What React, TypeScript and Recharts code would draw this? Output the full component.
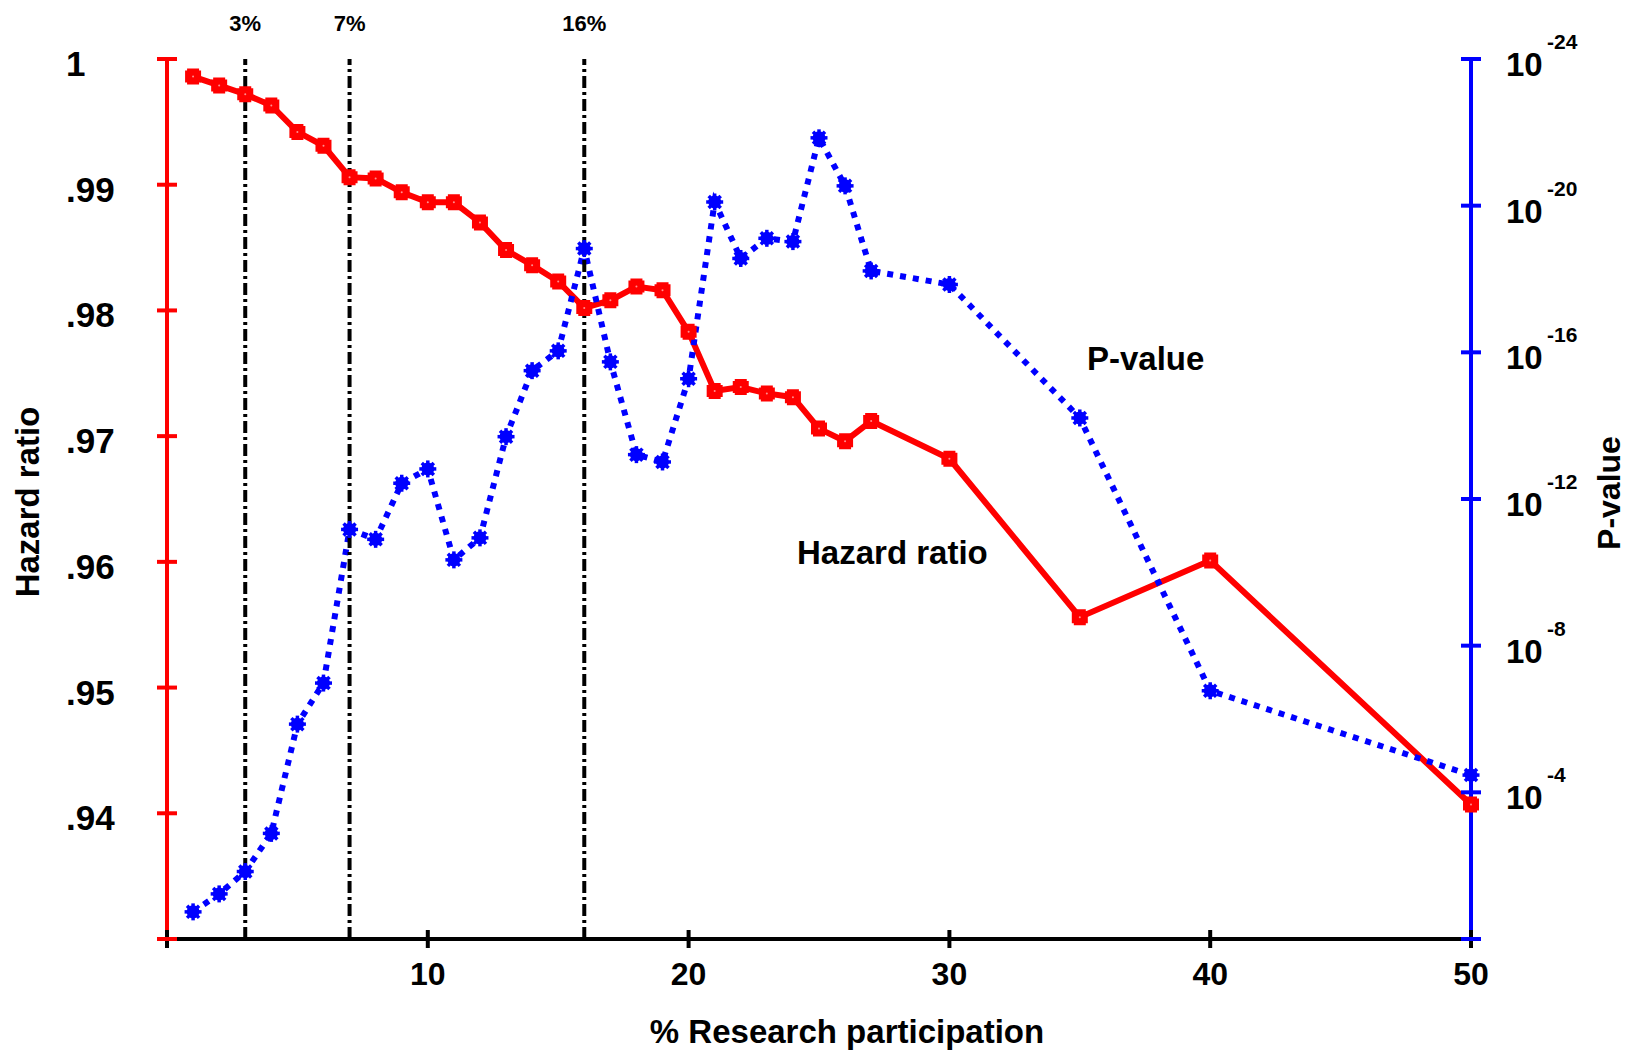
import { ComposedChart, Line, ReferenceLine, XAxis, YAxis } from 'recharts';

// % research participation (x)
const participation = [1, 2, 3, 4, 5, 6, 7, 8, 9, 10, 11, 12, 13, 14, 15, 16, 17, 18, 19, 20, 21, 22, 23, 24, 25, 26, 27, 30, 35, 40, 50];

const hazardRatio = [
  0.9986, 0.9979, 0.9972, 0.9963, 0.9942, 0.9931, 0.9906, 0.9905, 0.9894, 0.9886, 0.9886,
  0.987, 0.9848, 0.9836, 0.9823, 0.9802, 0.9808, 0.9819, 0.9816, 0.9783, 0.9736, 0.9739,
  0.9734, 0.9731, 0.9706, 0.9696, 0.9712, 0.9682, 0.9556, 0.9601, 0.9407,
];

// P-value exponent, i.e. -log10(P)
const pValueExp = [
  0.74, 1.23, 1.84, 2.88, 5.86, 6.98, 11.17, 10.9, 12.43, 12.82, 10.34, 10.94, 13.7, 15.5,
  16.04, 18.83, 15.74, 13.21, 13.01, 15.28, 20.1, 18.56, 19.11, 19.02, 21.85, 20.54, 18.22,
  17.85, 14.21, 6.77, 4.47,
];

const xTicks = [0, 10, 20, 30, 40, 50];
const hrTicks = [0.93, 0.94, 0.95, 0.96, 0.97, 0.98, 0.99, 1];
const pTicks = [0, 4, 8, 12, 16, 20, 24];
const cutoffs = [3, 7, 16];

const data = participation.map((x, i) => ({ x, hr: hazardRatio[i], p: pValueExp[i] }));

const FONT = '"Liberation Sans", Arial, Helvetica, sans-serif';

const hrLabel = (v: number) => (v === 1 ? '1' : v.toFixed(2).replace(/^0/, ''));

const XTick = (props: any) => {
  const { x, y, payload } = props;
  return (
    <g>
      <line x1={x} x2={x} y1={y - 9} y2={y + 9} stroke="#000" strokeWidth={4} />
      {payload.value > 0 && (
        <text x={x} y={y + 46} textAnchor="middle" fontFamily={FONT} fontWeight="bold" fontSize={32} fill="#000">
          {payload.value}
        </text>
      )}
    </g>
  );
};

const HrTick = (props: any) => {
  const { x, y, payload } = props;
  return (
    <g>
      <line x1={x - 10} x2={x + 10} y1={y} y2={y} stroke="#ff0000" strokeWidth={4} />
      {payload.value > 0.935 && (
        <text x={x - 101} y={y + 17} textAnchor="start" fontFamily={FONT} fontWeight="bold" fontSize={35} fill="#000">
          {hrLabel(payload.value)}
        </text>
      )}
    </g>
  );
};

const PTick = (props: any) => {
  const { x, y, payload } = props;
  return (
    <g>
      <line x1={x - 10} x2={x + 10} y1={y} y2={y} stroke="#0000ff" strokeWidth={4} />
      {payload.value > 0 && (
        <g fontFamily={FONT} fontWeight="bold" fill="#000">
          <text x={x + 35} y={y + 17} fontSize={33}>10</text>
          <text x={x + 76} y={y - 10} fontSize={21}>{`-${payload.value}`}</text>
        </g>
      )}
    </g>
  );
};

const SquareDot = (props: any) => {
  const { cx, cy, index } = props;
  if (cx == null || cy == null) return null;
  const s = 8;
  const c = 2;
  const d = `M${cx - s + c},${cy - s} H${cx + s - c} V${cy - s + c} H${cx + s} V${cy + s - c} H${cx + s - c} V${cy + s} H${cx - s + c} V${cy + s - c} H${cx - s} V${cy - s + c} H${cx - s + c} Z`;
  return (
    <g key={`hr-${index}`}>
      <path d={d} fill="#ff0000" />
      <circle cx={cx} cy={cy} r={1} fill="#ff9090" />
    </g>
  );
};

const StarDot = (props: any) => {
  const { cx, cy, index } = props;
  if (cx == null || cy == null) return null;
  const r = 8.5;
  const spokes = [0, 45, 90, 135].map((a) => {
    const rad = (a * Math.PI) / 180;
    return (
      <line
        key={a}
        x1={cx - r * Math.cos(rad)}
        y1={cy - r * Math.sin(rad)}
        x2={cx + r * Math.cos(rad)}
        y2={cy + r * Math.sin(rad)}
        stroke="#0000ff"
        strokeWidth={3.5}
      />
    );
  });
  return (
    <g key={`p-${index}`}>
      <circle cx={cx} cy={cy} r={6.5} fill="#0000ff" />
      {spokes}
    </g>
  );
};

export default function App() {
  return (
    <div style={{ position: 'absolute', left: 0, top: 0, width: 1629, height: 1050, background: '#fff' }}>
      <ComposedChart width={1629} height={1050} data={data} margin={{ top: 59, right: 58, bottom: 51, left: 67 }}>
        <XAxis
          dataKey="x"
          type="number"
          domain={[0, 50]}
          ticks={xTicks}
          interval={0}
          height={60}
          tickSize={0}
          tickMargin={0}
          tickLine={false}
          axisLine={{ stroke: '#000', strokeWidth: 4 }}
          tick={<XTick />}
        />
        <YAxis
          yAxisId="hr"
          type="number"
          domain={[0.93, 1]}
          ticks={hrTicks}
          interval={0}
          width={100}
          allowDataOverflow
          tickSize={0}
          tickMargin={0}
          tickLine={false}
          axisLine={{ stroke: '#ff0000', strokeWidth: 4 }}
          tick={<HrTick />}
        />
        <YAxis
          yAxisId="p"
          orientation="right"
          type="number"
          domain={[0, 24]}
          ticks={pTicks}
          interval={0}
          width={100}
          allowDataOverflow
          tickSize={0}
          tickMargin={0}
          tickLine={false}
          axisLine={{ stroke: '#0000ff', strokeWidth: 4 }}
          tick={<PTick />}
        />
        <Line
          yAxisId="hr"
          dataKey="hr"
          type="linear"
          stroke="#ff0000"
          strokeWidth={6}
          dot={<SquareDot />}
          activeDot={false}
          isAnimationActive={false}
        />
        <Line
          yAxisId="p"
          dataKey="p"
          type="linear"
          stroke="#0000ff"
          strokeWidth={6}
          strokeDasharray="6 7"
          dot={<StarDot />}
          activeDot={false}
          isAnimationActive={false}
        />
        {cutoffs.map((c) => (
          <ReferenceLine
            key={c}
            yAxisId="hr"
            x={c}
            stroke="#000"
            strokeWidth={4}
            strokeDasharray="12 4 3 4"
            label={{ value: `${c}%`, position: 'top', offset: 28, fill: '#000', fontSize: 22, fontWeight: 'bold', fontFamily: FONT }}
          />
        ))}
        <text x={1087} y={370} fontFamily={FONT} fontWeight="bold" fontSize={33} fill="#000">P-value</text>
        <text x={797} y={564} fontFamily={FONT} fontWeight="bold" fontSize={33} fill="#000">Hazard ratio</text>
        <text x={847} y={1043} textAnchor="middle" fontFamily={FONT} fontWeight="bold" fontSize={33} fill="#000">
          % Research participation
        </text>
        <text x={39} y={502} transform="rotate(-90, 39, 502)" textAnchor="middle" fontFamily={FONT} fontWeight="bold" fontSize={33} fill="#000">
          Hazard ratio
        </text>
        <text x={1620} y={493} transform="rotate(-90, 1620, 493)" textAnchor="middle" fontFamily={FONT} fontWeight="bold" fontSize={32} fill="#000">
          P-value
        </text>
      </ComposedChart>
    </div>
  );
}
